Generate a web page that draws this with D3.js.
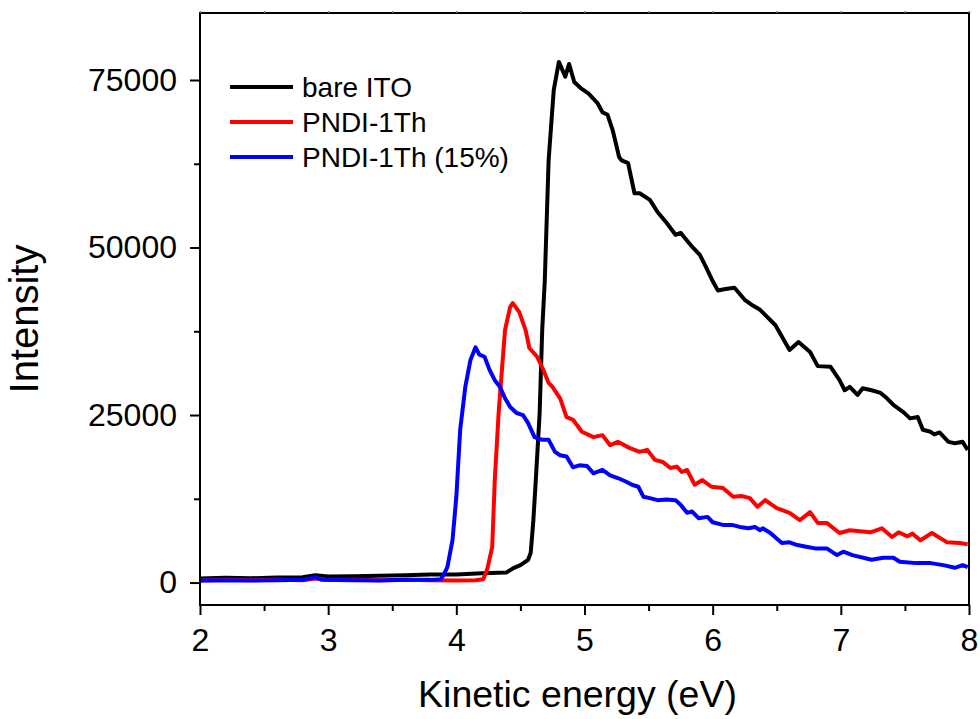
<!DOCTYPE html>
<html>
<head>
<meta charset="utf-8">
<script src="https://cdn.jsdelivr.net/npm/d3@7"></script>
<style>
  body { margin: 0; background: #fff; }
  svg { font-family: "Liberation Sans", Arial, sans-serif; }
</style>
</head>
<body>
<div id="chart"></div>
<script>
// series: energy (eV) and intensity (counts)
const bareE = [2.0, 2.2, 2.4, 2.6, 2.8, 2.9, 3.0, 3.2, 3.4, 3.6, 3.8, 4.0, 4.2, 4.39, 4.45, 4.5, 4.56, 4.58, 4.6, 4.62, 4.65, 4.67, 4.69, 4.72, 4.76, 4.80, 4.85, 4.88, 4.92, 4.97, 5.03, 5.10, 5.14, 5.18, 5.22, 5.27, 5.29, 5.34, 5.39, 5.43, 5.51, 5.57, 5.64, 5.71, 5.75, 5.81, 5.85, 5.90, 5.95, 6.0, 6.04, 6.10, 6.17, 6.25, 6.30, 6.37, 6.49, 6.60, 6.67, 6.76, 6.82, 6.92, 6.99, 7.03, 7.07, 7.13, 7.17, 7.24, 7.31, 7.36, 7.41, 7.49, 7.54, 7.60, 7.64, 7.70, 7.73, 7.77, 7.84, 7.89, 7.95, 7.99];
const bareI = [600, 700, 650, 750, 800, 1100, 900, 950, 1000, 1100, 1200, 1200, 1400, 1500, 2200, 2600, 3400, 4400, 9000, 15300, 25300, 37700, 45000, 63000, 73500, 77700, 75500, 77400, 74700, 73800, 73000, 71600, 70200, 69800, 67500, 63500, 63000, 62600, 58100, 58100, 57100, 55300, 53700, 51900, 52200, 50800, 49900, 48900, 47000, 45000, 43600, 43800, 44000, 42200, 41500, 40700, 38400, 34700, 35900, 34400, 32300, 32200, 30200, 28700, 29200, 28000, 29000, 28700, 28300, 27500, 26500, 25400, 24500, 24700, 22800, 22500, 22100, 22400, 21000, 20800, 21000, 19800];

const pndiE = [2.0, 2.2, 2.4, 2.6, 2.8, 2.9, 3.0, 3.2, 3.4, 3.6, 3.8, 4.0, 4.15, 4.21, 4.24, 4.28, 4.30, 4.33, 4.36, 4.38, 4.42, 4.44, 4.49, 4.54, 4.57, 4.63, 4.68, 4.72, 4.75, 4.81, 4.86, 4.91, 4.98, 5.07, 5.14, 5.20, 5.26, 5.35, 5.43, 5.49, 5.55, 5.61, 5.67, 5.72, 5.76, 5.80, 5.86, 5.92, 5.99, 6.08, 6.16, 6.23, 6.29, 6.35, 6.41, 6.50, 6.60, 6.68, 6.76, 6.82, 6.89, 6.99, 7.07, 7.23, 7.32, 7.40, 7.45, 7.52, 7.56, 7.62, 7.71, 7.83, 7.93, 7.99];
const pndiI = [300, 400, 350, 400, 350, 600, 400, 400, 350, 400, 350, 300, 350, 500, 1900, 5300, 15300, 25300, 32800, 37700, 41100, 41700, 40400, 37700, 35000, 33700, 31700, 29800, 29200, 27500, 24700, 24300, 22500, 21700, 22000, 20500, 21000, 20100, 19500, 19800, 18300, 18000, 17100, 17300, 16500, 16800, 14600, 15300, 14300, 14100, 12800, 12900, 12600, 11300, 12300, 11100, 10400, 9300, 10500, 8900, 8900, 7400, 7800, 7500, 8100, 6800, 7500, 6900, 7300, 6300, 7400, 6000, 5900, 5700];

const pndi15E = [2.0, 2.2, 2.4, 2.6, 2.8, 2.9, 2.95, 3.2, 3.4, 3.6, 3.8, 3.88, 3.91, 3.93, 3.97, 4.00, 4.03, 4.07, 4.11, 4.15, 4.18, 4.22, 4.26, 4.30, 4.34, 4.38, 4.42, 4.47, 4.52, 4.56, 4.61, 4.67, 4.72, 4.77, 4.81, 4.86, 4.91, 4.96, 5.02, 5.07, 5.14, 5.20, 5.26, 5.33, 5.37, 5.42, 5.46, 5.51, 5.57, 5.64, 5.71, 5.75, 5.80, 5.84, 5.89, 5.96, 6.00, 6.08, 6.15, 6.21, 6.28, 6.33, 6.37, 6.39, 6.45, 6.54, 6.60, 6.66, 6.74, 6.80, 6.89, 6.97, 7.02, 7.09, 7.24, 7.33, 7.41, 7.46, 7.59, 7.70, 7.80, 7.89, 7.95, 7.99];
const pndi15I = [300, 350, 300, 350, 400, 800, 400, 350, 300, 400, 400, 500, 1500, 2300, 6300, 12800, 22800, 29200, 33200, 35100, 34000, 33700, 31700, 30200, 29200, 27500, 26200, 25300, 25000, 23800, 21700, 21300, 21300, 19500, 19000, 18800, 17200, 17500, 17400, 16300, 16800, 16000, 15600, 15000, 14600, 14300, 12800, 12600, 12300, 12400, 12300, 11600, 10400, 10600, 9600, 9800, 9000, 8600, 8600, 8300, 8100, 8300, 7800, 8100, 7400, 5900, 6000, 5600, 5300, 5100, 5100, 4100, 4600, 4100, 3400, 3700, 3700, 3100, 2900, 2900, 2600, 2200, 2600, 2300];

const seriesNames = ['bare ITO', 'PNDI-1Th', 'PNDI-1Th (15%)'];
const seriesColors = ['#000000', '#ff0000', '#0000ff'];
const xTicks = [2, 3, 4, 5, 6, 7, 8];
const yTicks = [0, 25000, 50000, 75000];

const width = 980, height = 719;
const margin = { top: 13, right: 11, bottom: 114, left: 200 };

const svg = d3.select('#chart').append('svg')
  .attr('width', width)
  .attr('height', height);

const x = d3.scaleLinear().domain([2, 8]).range([margin.left, width - margin.right]);
const y = d3.scaleLinear().domain([-3350, 85000]).range([height - margin.bottom, margin.top]);

const series = [
  { E: bareE, I: bareI },
  { E: pndiE, I: pndiI },
  { E: pndi15E, I: pndi15I }
].map((s, i) => ({
  name: seriesNames[i],
  color: seriesColors[i],
  points: s.E.map((e, j) => [e, s.I[j]])
}));

const line = d3.line()
  .x(d => x(d[0]))
  .y(d => y(d[1]));

svg.append('defs').append('clipPath').attr('id', 'clip')
  .append('rect')
  .attr('x', margin.left).attr('y', margin.top)
  .attr('width', width - margin.left - margin.right)
  .attr('height', height - margin.top - margin.bottom);

svg.append('g').attr('clip-path', 'url(#clip)')
  .selectAll('path')
  .data(series)
  .enter()
  .append('path')
  .attr('d', d => line(d.points))
  .attr('fill', 'none')
  .attr('stroke', d => d.color)
  .attr('stroke-width', 4)
  .attr('stroke-linejoin', 'round');

// frame
svg.append('rect')
  .attr('x', margin.left).attr('y', margin.top)
  .attr('width', width - margin.left - margin.right)
  .attr('height', height - margin.top - margin.bottom)
  .attr('fill', 'none')
  .attr('stroke', '#000')
  .attr('stroke-width', 2);

// minor ticks
const xMinor = d3.range(2.5, 8, 1);
const yMinor = [12500, 37500, 62500];

svg.append('g')
  .attr('transform', `translate(0,${height - margin.bottom})`)
  .call(d3.axisBottom(x).tickValues(xMinor).tickSize(6).tickFormat(''))
  .call(g => g.select('.domain').remove())
  .call(g => g.selectAll('line').attr('stroke-width', 2));

svg.append('g')
  .attr('transform', `translate(${margin.left},0)`)
  .call(d3.axisLeft(y).tickValues(yMinor).tickSize(6).tickFormat(''))
  .call(g => g.select('.domain').remove())
  .call(g => g.selectAll('line').attr('stroke-width', 2));

// top edge small ticks
svg.append('g')
  .attr('transform', `translate(0,${margin.top})`)
  .call(d3.axisTop(x).tickValues(d3.range(2, 8.01, 0.5)).tickSize(2).tickFormat(''))
  .call(g => g.select('.domain').remove())
  .call(g => g.selectAll('line').attr('stroke', '#777').attr('stroke-width', 1.5));

// major axes
svg.append('g')
  .attr('transform', `translate(0,${height - margin.bottom})`)
  .call(d3.axisBottom(x).tickValues(xTicks).tickSize(10).tickPadding(13).tickFormat(d3.format('d')))
  .call(g => g.select('.domain').remove())
  .call(g => g.selectAll('line').attr('stroke-width', 2))
  .call(g => g.selectAll('text').attr('font-size', 32).attr('fill', '#000')
    .style('font-family', '"Liberation Sans", Arial, sans-serif'));

svg.append('g')
  .attr('transform', `translate(${margin.left},0)`)
  .call(d3.axisLeft(y).tickValues(yTicks).tickSize(10).tickPadding(13).tickFormat(d3.format('d')))
  .call(g => g.select('.domain').remove())
  .call(g => g.selectAll('line').attr('stroke-width', 2))
  .call(g => g.selectAll('text').attr('font-size', 32).attr('fill', '#000')
    .style('font-family', '"Liberation Sans", Arial, sans-serif'));

// axis titles
svg.append('text')
  .attr('x', (margin.left + width - margin.right) / 2 - 7)
  .attr('y', 707)
  .attr('text-anchor', 'middle')
  .attr('font-size', 37.5)
  .text('Kinetic energy (eV)');

svg.append('text')
  .attr('transform', 'translate(38,319) rotate(-90)')
  .attr('text-anchor', 'middle')
  .attr('font-size', 40)
  .text('Intensity');

// legend
const legend = svg.append('g');
const legendY = [87, 122, 157];
series.forEach((s, i) => {
  legend.append('line')
    .attr('x1', 230).attr('x2', 293)
    .attr('y1', legendY[i]).attr('y2', legendY[i])
    .attr('stroke', s.color)
    .attr('stroke-width', 4);
  legend.append('text')
    .attr('x', 302)
    .attr('y', legendY[i])
    .attr('dy', '0.36em')
    .attr('font-size', 28)
    .text(s.name);
});
</script>
</body>
</html>
